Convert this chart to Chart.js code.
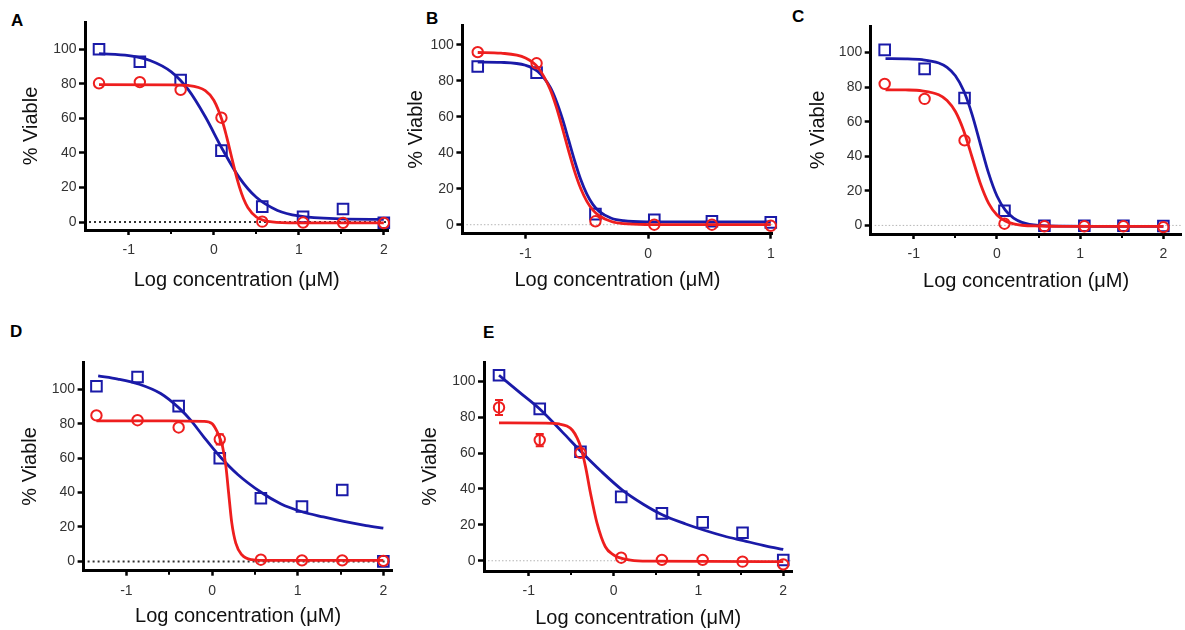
<!DOCTYPE html>
<html>
<head>
<meta charset="utf-8">
<title>Viability curves</title>
<script src="https://cdn.jsdelivr.net/npm/chart.js@4.4.1/dist/chart.umd.min.js"></script>
<style>
    body {
        margin: 0;
        width: 1185px;
        height: 630px;
        overflow: hidden;
        background: #ffffff;
        position: relative;
        font-family: "Liberation Sans", Arial, sans-serif;
    }
    canvas {
        position: absolute;
    }
    .tag {
        position: absolute;
        font-weight: bold;
        font-size: 17px;
        line-height: 17px;
        color: #000;
    }
</style>
</head>
<body>

<div class="tag" style="left:11px; top:12px;">A</div>
<div class="tag" style="left:426px; top:10px;">B</div>
<div class="tag" style="left:792px; top:8px;">C</div>
<div class="tag" style="left:10px; top:323px;">D</div>
<div class="tag" style="left:483px; top:324px;">E</div>

<canvas id="chartA"></canvas>
<canvas id="chartB"></canvas>
<canvas id="chartC"></canvas>
<canvas id="chartD"></canvas>
<canvas id="chartE"></canvas>

<script>

// ================= DATA =================

// log10 of the concentrations (3-fold dilutions)
const logConc = [-1.35, -0.87, -0.39, 0.09, 0.57, 1.05, 1.52, 2.0];
const logConcB = [-1.39, -0.91, -0.43, 0.05, 0.52, 1.0];

const xTicksWide = [-1, 0, 1, 2];
const xTicksB = [-1, 0, 1];
const xMinorWide = [-0.5, 0.5, 1.5];
const yTicks = [0, 20, 40, 60, 80, 100];

// panel A
const aBlue = [100, 92.8, 82.2, 41.3, 8.9, 3, 7.5, -0.4];
const aRed = [80.3, 81, 76.5, 60.4, 0.2, -0.3, -0.5, -0.6];
const aBlueFitX = [-1.35, -1.0, -0.75, -0.5, -0.3, -0.1, 0.1, 0.3, 0.5, 0.75, 1.0, 1.5, 2.0];
const aBlueFit = [97.5, 96.3, 93.5, 86.9, 76.6, 60.9, 42.3, 25.7, 14.3, 6.7, 3.5, 1.8, 1.5];
const aRedFitX = [-1.35, -0.5, -0.3, -0.1, 0, 0.1, 0.15, 0.2, 0.25, 0.3, 0.35, 0.4, 0.5, 0.6, 0.8, 1.0, 2.0];
const aRedFit = [79.5, 79.4, 79.05, 76.1, 70.5, 58.5, 49.6, 39.5, 29.4, 20.5, 13.5, 8.45, 2.9, 0.75, -0.4, -0.5, -0.5];

// panel B
const bBlue = [88, 84.6, 5.9, 2.8, 1.9, 1.3];
const bRed = [96, 89.8, 1.9, 0, 0, -0.6];
const bFitX = [-1.39, -1.2, -1.0, -0.9, -0.8, -0.75, -0.7, -0.65, -0.6, -0.55, -0.5, -0.45, -0.4, -0.3, -0.2, 0, 0.5, 1.0];
const bBlueFit = [90.5, 90.3, 88.7, 85.3, 76.6, 69.0, 59.1, 47.4, 35.6, 25.1, 17.0, 11.2, 7.4, 3.6, 2.2, 1.6, 1.5, 1.5];
const bRedFit = [95.8, 95.4, 92.8, 87.6, 75.4, 65.7, 53.9, 41.4, 29.7, 20.1, 13.0, 8.1, 5.0, 1.8, 0.6, 0.1, 0, 0];

// panel C
const cBlue = [101.6, 90.6, 73.7, 8.5, -0.2, -0.2, -0.2, -0.3];
const cRed = [81.9, 73.2, 49.2, 1, -0.5, -0.5, -0.5, -1];
const cFitX = [-1.34, -1.1, -0.9, -0.7, -0.6, -0.5, -0.4, -0.3, -0.2, -0.1, 0, 0.1, 0.2, 0.3, 0.5, 0.8, 1.2, 2.0];
const cBlueFit = [96.5, 96.4, 95.9, 94.0, 91.5, 86.6, 77.9, 64.3, 47.1, 30.1, 17.0, 8.8, 4.2, 1.8, 0.0, -0.4, -0.5, -0.5];
const cRedFit = [78.5, 78.4, 77.9, 75.6, 72.3, 65.9, 54.8, 39.6, 24.3, 12.8, 6.0, 2.5, 0.9, 0.1, -0.35, -0.5, -0.5, -0.5];

// panel D
const dBlue = [101.7, 107.1, 90.2, 59.9, 36.7, 31.9, 41.5, 0];
const dRed = [84.8, 82, 77.8, 70.9, 1, 0.6, 0.6, 0.3];
const dRedErr = [0, 0, 0, 3, 0, 0, 0, 0];
const dBlueFitX = [-1.33, -1.1, -0.85, -0.6, -0.384, -0.25, -0.1, 0.1, 0.3, 0.577, 0.8, 1.04, 1.3, 1.54, 1.8, 2.0];
const dBlueFit = [107.7, 105.9, 102.9, 97.5, 89, 82, 72.5, 60.5, 50.5, 40, 33.5, 29, 25.8, 23.2, 20.8, 19.3];
const dRedFitX = [-1.35, -0.5, -0.1, 0.0, 0.058, 0.1, 0.123, 0.162, 0.193, 0.23, 0.277, 0.346, 0.46, 0.6, 2.0];
const dRedFit = [81.6, 81.6, 81.3, 80, 75.5, 70.5, 66.6, 55, 40, 22.5, 10.6, 3.9, 1, 0.6, 0.6];

// panel E
const eBlue = [103.3, 84.6, 60.7, 35.6, 26.4, 21.4, 15.6, 0.4];
const eRed = [85.4, 67.2, 60.1, 1.7, 0.5, 0.5, -0.5, -2];
const eRedErr = [4.2, 3.4, 0, 0, 0, 0, 0, 0];
const eBlueFitX = [-1.35, -1.1, -0.87, -0.6, -0.387, -0.15, 0.1, 0.35, 0.58, 0.85, 1.07, 1.3, 1.53, 1.8, 2.0];
const eBlueFit = [103.3, 93.5, 84.5, 71.5, 61, 50, 39.5, 31.5, 25.5, 20.5, 17, 13.8, 11.2, 8.2, 6.3];
const eRedFitX = [-1.35, -0.8, -0.64, -0.55, -0.485, -0.43, -0.387, -0.33, -0.271, -0.194, -0.097, 0.0, 0.058, 0.2, 0.4, 2.0];
const eRedFit = [76.8, 76.7, 76.2, 75, 72.7, 68.5, 63.4, 52.3, 37.5, 20.8, 7.8, 3.3, 1.9, 0.4, -0.2, -0.5];


// ================= STYLE =================

const BLUE = "#1a1aa8";
const RED = "#ee1e1e";
const FONT = "'Liberation Sans', Arial, sans-serif";
const TITLE_SIZE = 20;

const zeroDark = { color: "#333333", width: 2, dash: [2, 3] };
const zeroLight = { color: "#b5b5b5", width: 1, dash: [1.5, 2] };

Chart.defaults.font.family = FONT;
Chart.defaults.animation = false;


// ================= HELPERS =================

function toPoints(xs, ys) {
    return xs.map((x, i) => ({ x: x, y: ys[i] }));
}

function fitLine(xs, ys, color) {
    return {
        data: toPoints(xs, ys),
        showLine: true,
        borderColor: color,
        borderWidth: 2.8,
        pointRadius: 0,
        cubicInterpolationMode: "monotone",
        clip: false
    };
}

function markers(xs, ys, color, style, radius, errors) {
    return {
        data: toPoints(xs, ys),
        showLine: false,
        pointStyle: style,
        pointRadius: radius,
        pointBorderColor: color,
        pointBorderWidth: 2,
        pointBackgroundColor: "rgba(0,0,0,0)",
        errorBars: errors || null,
        errorColor: color,
        clip: false
    };
}

// zero line, minor ticks and error bars
const panelExtras = {

    id: "panelExtras",

    beforeDatasetsDraw(chart, args, opts) {
        const ctx = chart.ctx;
        const area = chart.chartArea;
        const y0 = chart.scales.y.getPixelForValue(0);
        ctx.save();
        ctx.strokeStyle = opts.zero.color;
        ctx.lineWidth = opts.zero.width;
        ctx.setLineDash(opts.zero.dash);
        ctx.beginPath();
        ctx.moveTo(area.left + 4, y0);
        ctx.lineTo(area.right, y0);
        ctx.stroke();
        ctx.restore();
    },

    afterDatasetsDraw(chart) {
        const ctx = chart.ctx;
        const ys = chart.scales.y;
        chart.data.datasets.forEach((ds, i) => {
            if (!ds.errorBars) {
                return;
            }
            const meta = chart.getDatasetMeta(i);
            ctx.save();
            ctx.strokeStyle = ds.errorColor;
            ctx.lineWidth = 2;
            ds.errorBars.forEach((err, j) => {
                if (!err) {
                    return;
                }
                const x = meta.data[j].x;
                const v = ds.data[j].y;
                const top = ys.getPixelForValue(v + err);
                const bot = ys.getPixelForValue(v - err);
                ctx.beginPath();
                ctx.moveTo(x, top);
                ctx.lineTo(x, bot);
                ctx.moveTo(x - 4, top);
                ctx.lineTo(x + 4, top);
                ctx.moveTo(x - 4, bot);
                ctx.lineTo(x + 4, bot);
                ctx.stroke();
            });
            ctx.restore();
        });
    },

    afterDraw(chart, args, opts) {
        const ctx = chart.ctx;
        const area = chart.chartArea;
        const xs = chart.scales.x;
        ctx.save();
        ctx.strokeStyle = "#000";
        ctx.lineWidth = 2;
        opts.minor.forEach(v => {
            const px = Math.round(xs.getPixelForValue(v));
            ctx.beginPath();
            ctx.moveTo(px, area.bottom);
            ctx.lineTo(px, area.bottom + 4);
            ctx.stroke();
        });
        ctx.restore();
    }

};


// ================= PANEL =================

function makePanel(id, box, xMajor, xMinor, zero, datasets) {

    const canvas = document.getElementById(id);

    const left = box.yTitle - 40;
    const top = box.top - 10;
    const right = box.right + 6;
    const bottom = box.xTitle + 12;

    canvas.width = right - left;
    canvas.height = bottom - top;
    canvas.style.left = left + "px";
    canvas.style.top = top + "px";

    const lineH = TITLE_SIZE * 1.2;
    const mid = TITLE_SIZE * 0.3465;

    new Chart(canvas, {

        type: "scatter",

        data: { datasets: datasets },

        plugins: [panelExtras],

        options: {

            responsive: false,
            maintainAspectRatio: false,
            devicePixelRatio: 1,

            layout: {
                padding: { left: 0, top: box.top - top, right: right - box.right, bottom: 0 }
            },

            plugins: {
                legend: { display: false },
                tooltip: { enabled: false },
                panelExtras: { zero: zero, minor: xMinor }
            },

            scales: {

                x: {
                    type: "linear",
                    min: box.xMin,
                    max: box.xMax,
                    afterBuildTicks(s) {
                        s.ticks = xMajor.map(v => ({ value: v }));
                    },
                    afterFit(s) {
                        s.height = bottom - box.bottom;
                        s.paddingLeft = 0;
                        s.paddingRight = 0;
                    },
                    grid: {
                        drawOnChartArea: false,
                        drawTicks: true,
                        tickLength: 5,
                        tickWidth: 2.5,
                        tickColor: "#000"
                    },
                    border: { display: true, color: "#000", width: 3 },
                    ticks: {
                        autoSkip: false,
                        maxRotation: 0,
                        padding: 7,
                        color: "#333",
                        font: { size: 14 }
                    },
                    title: {
                        display: true,
                        text: "Log concentration (\u03bcM)",
                        color: "#111",
                        font: { size: TITLE_SIZE },
                        padding: { top: 0, bottom: bottom - (box.xTitle - mid) - lineH / 2 }
                    }
                },

                y: {
                    type: "linear",
                    min: box.yMin,
                    max: box.yMax,
                    afterBuildTicks(s) {
                        s.ticks = yTicks.map(v => ({ value: v }));
                    },
                    afterFit(s) {
                        s.width = box.left - left;
                        s.paddingTop = 0;
                        s.paddingBottom = 0;
                    },
                    grid: {
                        drawOnChartArea: false,
                        drawTicks: true,
                        tickLength: 6,
                        tickWidth: 2.5,
                        tickColor: "#000"
                    },
                    border: { display: true, color: "#000", width: 3 },
                    ticks: {
                        autoSkip: false,
                        padding: 2.5,
                        color: "#333",
                        font: { size: 14 }
                    },
                    title: {
                        display: true,
                        text: "% Viable",
                        color: "#111",
                        font: { size: TITLE_SIZE },
                        padding: { top: (box.yTitle - mid - left) - lineH / 2, bottom: 0 }
                    }
                }

            }

        }

    });

}


// ================= CHARTS =================

makePanel("chartA",
    { left: 85, top: 22, right: 392, bottom: 230, yTitle: 38, xTitle: 287,
      xMin: -1.515, xMax: 2.055, yMin: -4.63, yMax: 115.8 },
    xTicksWide, xMinorWide, zeroDark,
    [
        markers(logConc, aRed, RED, "circle", 5.2),
        fitLine(aRedFitX, aRedFit, RED),
        markers(logConc, aBlue, BLUE, "rect", 7.5),
        fitLine(aBlueFitX, aBlueFit, BLUE)
    ]);

makePanel("chartB",
    { left: 462.7, top: 25, right: 776.7, bottom: 234, yTitle: 423.3, xTitle: 287.3,
      xMin: -1.515, xMax: 1.014, yMin: -5, yMax: 111.1 },
    xTicksB, [], zeroLight,
    [
        markers(logConcB, bRed, RED, "circle", 5.2),
        fitLine(bFitX, bRedFit, RED),
        markers(logConcB, bBlue, BLUE, "rect", 7.5),
        fitLine(bFitX, bBlueFit, BLUE)
    ]);

makePanel("chartC",
    { left: 870.7, top: 26, right: 1185, bottom: 234.3, yTitle: 825, xTitle: 288.3,
      xMin: -1.518, xMax: 2.218, yMin: -4.97, yMax: 115.4 },
    xTicksWide, xMinorWide, zeroLight,
    [
        markers(logConc, cRed, RED, "circle", 5.2),
        fitLine(cFitX, cRedFit, RED),
        markers(logConc, cBlue, BLUE, "rect", 7.5),
        fitLine(cFitX, cBlueFit, BLUE)
    ]);

makePanel("chartD",
    { left: 83.3, top: 361.7, right: 396, bottom: 571, yTitle: 36.7, xTitle: 623.3,
      xMin: -1.5, xMax: 2.107, yMin: -5.4, yMax: 115.8 },
    xTicksWide, xMinorWide, zeroDark,
    [
        markers(logConc, dRed, RED, "circle", 5.2, dRedErr),
        fitLine(dRedFitX, dRedFit, RED),
        markers(logConc, dBlue, BLUE, "rect", 7.5),
        fitLine(dBlueFitX, dBlueFit, BLUE)
    ]);

makePanel("chartE",
    { left: 484, top: 361.7, right: 796.7, bottom: 571, yTitle: 437, xTitle: 625,
      xMin: -1.527, xMax: 2.109, yMin: -5.7, yMax: 110.7 },
    xTicksWide, xMinorWide, zeroLight,
    [
        markers(logConc, eRed, RED, "circle", 5.2, eRedErr),
        fitLine(eRedFitX, eRedFit, RED),
        markers(logConc, eBlue, BLUE, "rect", 7.5),
        fitLine(eBlueFitX, eBlueFit, BLUE)
    ]);

</script>
</body>
</html>
